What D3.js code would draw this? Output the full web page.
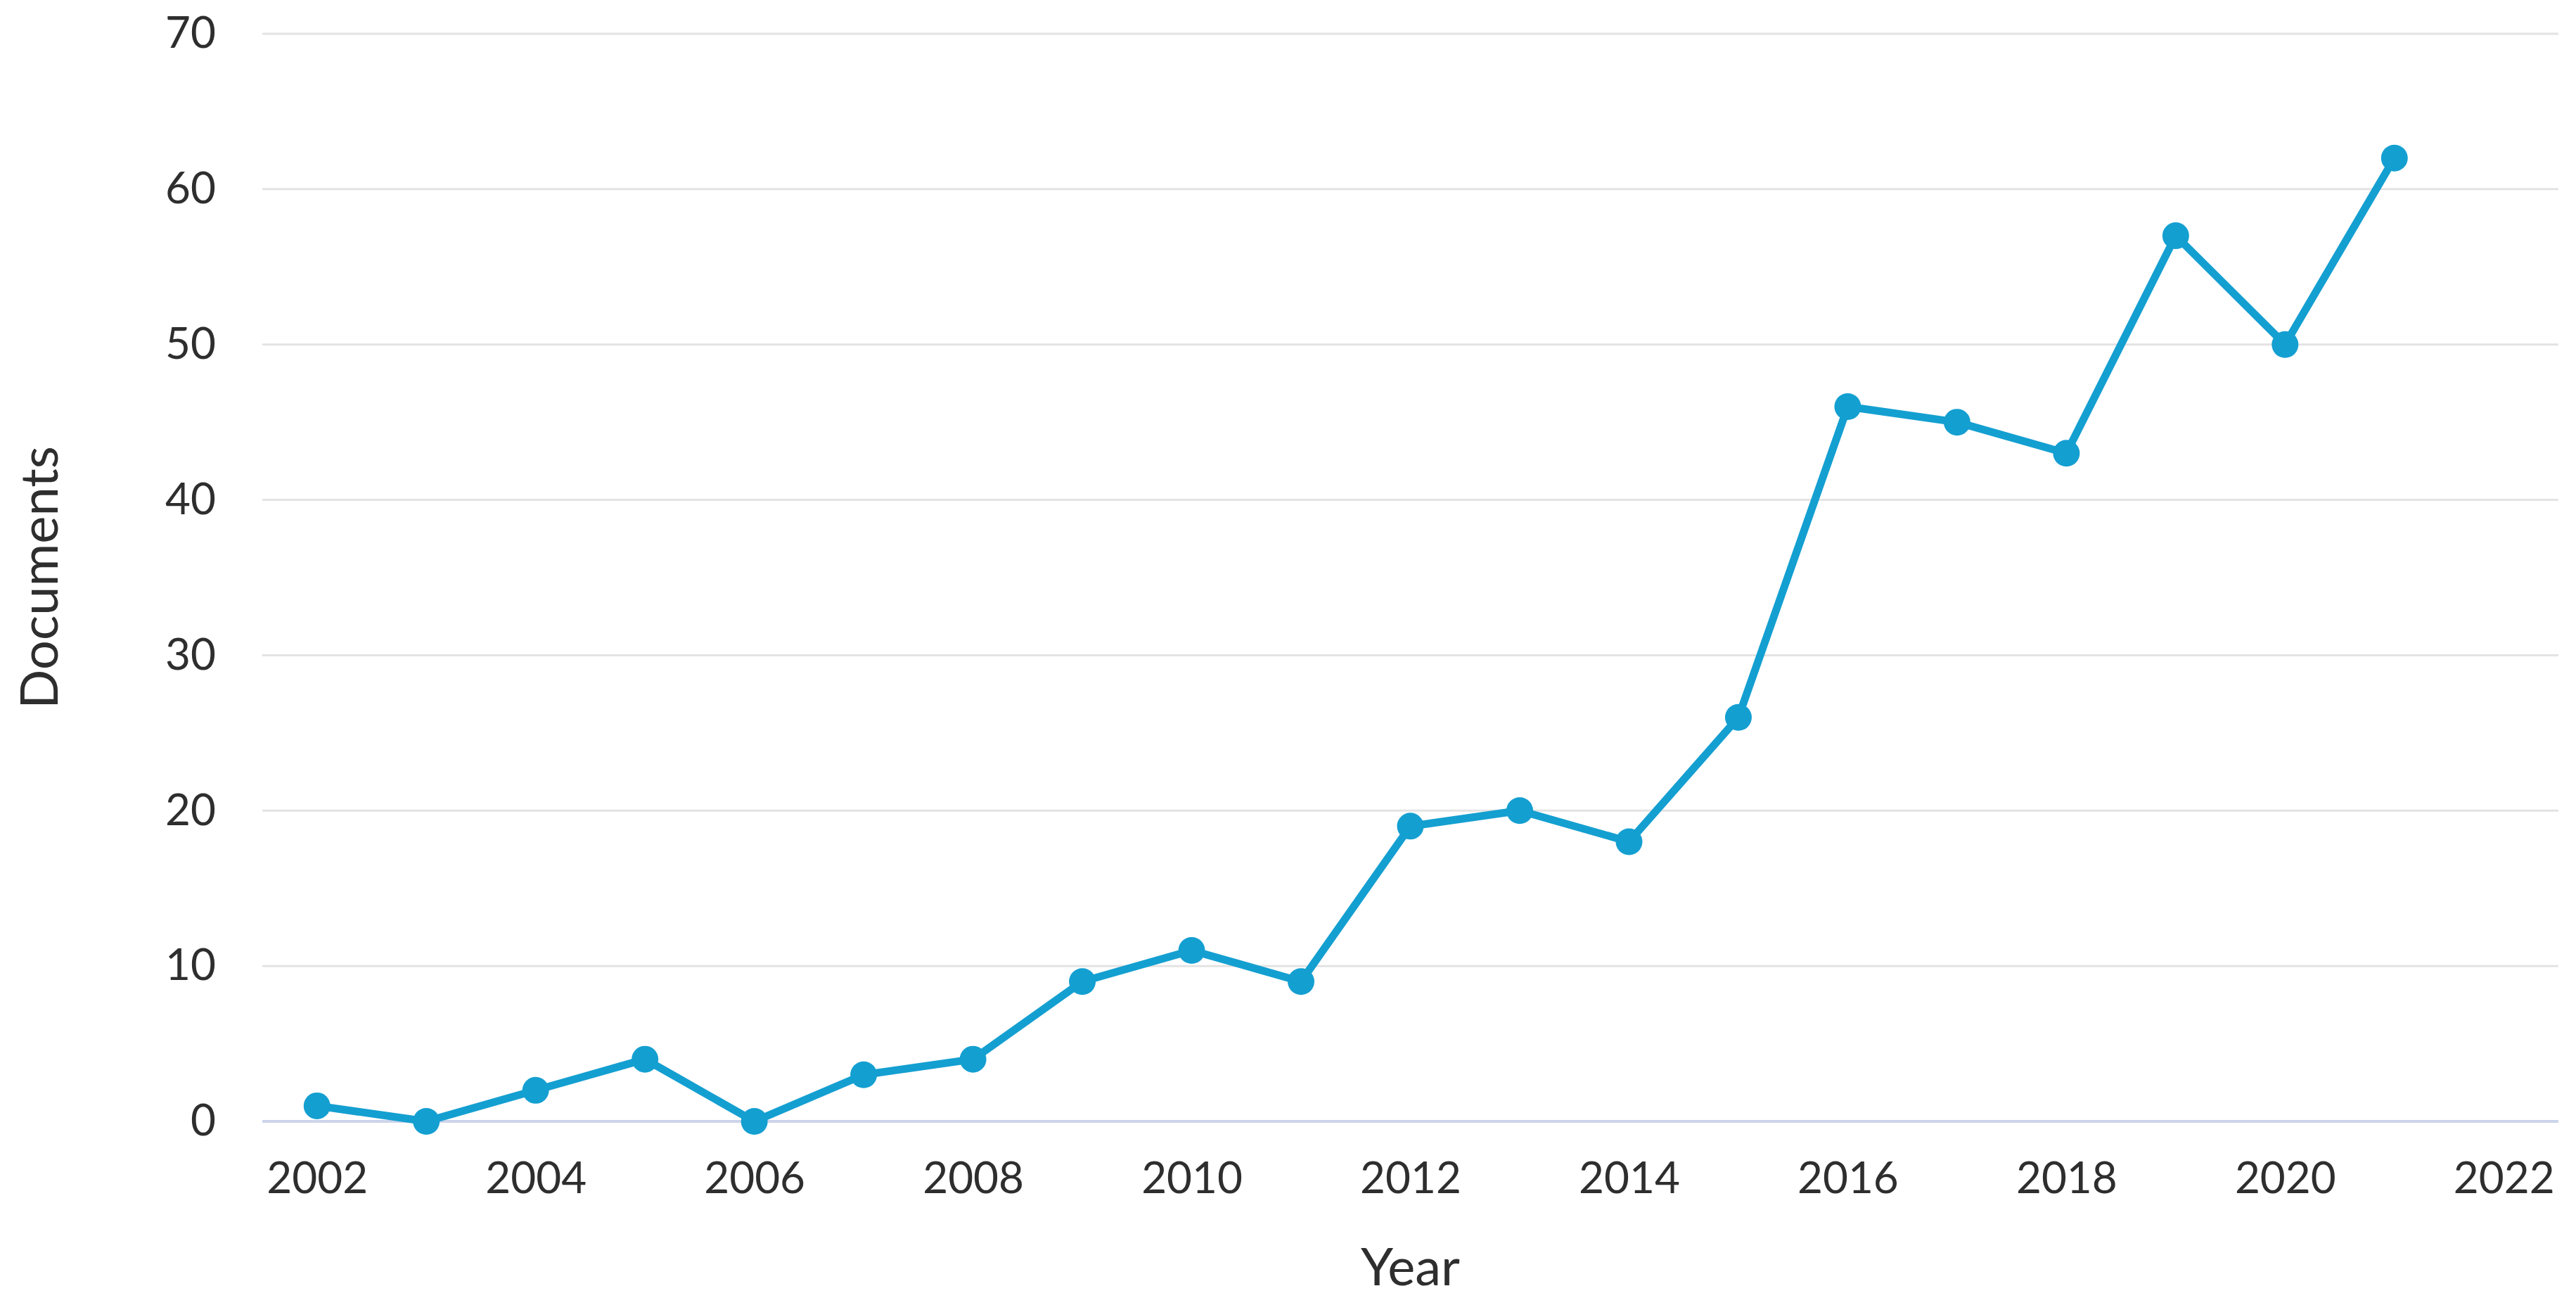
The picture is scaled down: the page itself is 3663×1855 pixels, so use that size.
<!DOCTYPE html>
<html>
<head>
<meta charset="utf-8">
<script src="https://cdn.jsdelivr.net/npm/d3@7"></script>
<style>
html,body{margin:0;padding:0;background:#fff;}
svg{display:block;}
</style>
</head>
<body>
<svg id="chart" width="3663" height="1855"></svg>
<script>
const years = [2002,2003,2004,2005,2006,2007,2008,2009,2010,2011,2012,2013,2014,2015,2016,2017,2018,2019,2020,2021];
const documents = [1,0,2,4,0,3,4,9,11,9,19,20,18,26,46,45,43,57,50,62];
const xTicks = [2002,2004,2006,2008,2010,2012,2014,2016,2018,2020,2022];
const yTicks = [0,10,20,30,40,50,60,70];
const xTitle = "Year";
const yTitle = "Documents";

(function () {
const svg = d3.select("#chart");
const pLeft = 373, pRight = 3638, pTop = 48, pBottom = 1594;
const font = "Lato, 'Noto Sans', sans-serif";
const textColor = "#2e2e2e";
const lineColor = "#149fd1";

const x = d3.scaleLinear().domain([2001.5, 2022.5]).range([pLeft, pRight]);
const y = d3.scaleLinear().domain([0, 70]).range([pBottom, pTop]);

// gridlines
svg.append("g").selectAll("line").data(yTicks.filter(d => d > 0)).join("line")
  .attr("x1", pLeft).attr("x2", pRight)
  .attr("y1", d => y(d)).attr("y2", d => y(d))
  .attr("stroke", "#e3e3e3").attr("stroke-width", 3);

// baseline
svg.append("line")
  .attr("x1", pLeft).attr("x2", pRight)
  .attr("y1", y(0)).attr("y2", y(0))
  .attr("stroke", "#ccd4ea").attr("stroke-width", 4);

// x axis
const xa = svg.append("g").attr("transform", `translate(0,${y(0)})`)
  .call(d3.axisBottom(x).tickValues(xTicks).tickFormat(d3.format("d")).tickSize(0).tickPadding(58));
xa.select(".domain").remove();
xa.selectAll("text").attr("font-family", font).attr("font-size", 62).attr("fill", textColor);

// y axis
const ya = svg.append("g").attr("transform", `translate(${pLeft},0)`)
  .call(d3.axisLeft(y).tickValues(yTicks).tickSize(0).tickPadding(66));
ya.select(".domain").remove();
ya.selectAll("text").attr("font-family", font).attr("font-size", 62).attr("fill", textColor);

// axis titles
svg.append("text").attr("x", (pLeft + pRight) / 2).attr("y", 1827)
  .attr("text-anchor", "middle").attr("font-family", font).attr("font-size", 74)
  .attr("fill", textColor).text(xTitle);
svg.append("text").attr("transform", `translate(82,${(pTop + pBottom) / 2}) rotate(-90)`)
  .attr("text-anchor", "middle").attr("font-family", font).attr("font-size", 74)
  .attr("fill", textColor).text(yTitle);

// line
const data = years.map((yr, i) => ({yr, v: documents[i]}));
svg.append("path").datum(data)
  .attr("fill", "none").attr("stroke", lineColor).attr("stroke-width", 11)
  .attr("stroke-linejoin", "round")
  .attr("d", d3.line().x(d => x(d.yr)).y(d => y(d.v)));

svg.append("g").selectAll("circle").data(data).join("circle")
  .attr("cx", d => x(d.yr)).attr("cy", d => y(d.v)).attr("r", 19)
  .attr("fill", lineColor);
})();
</script>
</body>
</html>
